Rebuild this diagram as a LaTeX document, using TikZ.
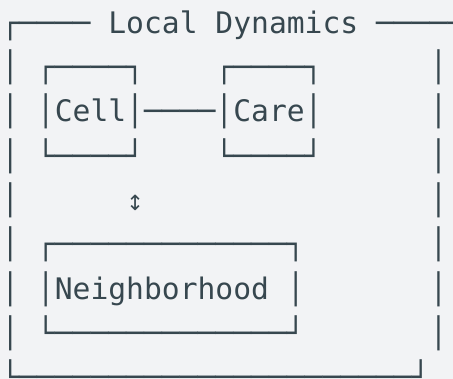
\documentclass[tikz,border=0pt]{standalone}
\usepackage{fontspec}
\usepackage{xcolor}
\usepackage{tikz}
\usetikzlibrary{positioning}
\newfontfamily\asciimono{DejaVu Sans Mono}
\newfontfamily\arrowsans{DejaVu Sans}
\definecolor{SlateInk}{HTML}{37474F}
\definecolor{PaperGray}{HTML}{F2F3F5}
\newcommand{\updown}{\makebox[17.85pt]{\arrowsans\fontsize{21pt}{21pt}\selectfont ↕}}

\begin{document}
\begin{tikzpicture}[
    x=1pt, y=1pt,
    textrow/.style={anchor=base west, inner sep=0pt, text=SlateInk,
        font=\asciimono\fontsize{29.65pt}{44.3pt}\selectfont}
]
% Canvas
\fill[PaperGray] (0,0) rectangle (453,-379);
\useasboundingbox (0,0) rectangle (453,-379);

% Row 1: outer frame with title
\node[textrow] (row1) at (1.1,-33.3) {┌────~Local~Dynamics~─────┐};

% Rows 2-4: Cell and Care
\node[textrow] (row2) at (1.1,-77.6) {│~┌────┐~~~~┌────┐~~~~~~│};
\node[textrow] (row3) at (1.1,-121.9) {│~│Cell│────│Care│~~~~~~│};
\node[textrow] (row4) at (1.1,-166.2) {│~└────┘~~~~└────┘~~~~~~│};

% Row 5: link
\node[textrow] (row5) at (1.1,-210.5) {│~~~~~~\updown~~~~~~~~~~~~~~~~│};

% Rows 6-8: Neighborhood
\node[textrow] (row6) at (1.1,-254.8) {│~┌─────────────┐~~~~~~~│};
\node[textrow] (row7) at (1.1,-299.1) {│~│Neighborhood~│~~~~~~~│};
\node[textrow] (row8) at (1.1,-343.4) {│~└─────────────┘~~~~~~~│};

% Row 9: frame bottom
\node[textrow] (row9) at (1.1,-387.7) {└──────────────────────┘};
\end{tikzpicture}
\end{document}
